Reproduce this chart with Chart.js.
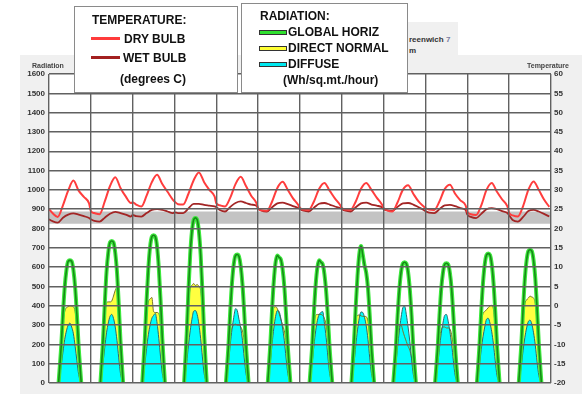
<!DOCTYPE html>
<html>
<head>
<meta charset="utf-8">
<script src="https://cdn.jsdelivr.net/npm/chart.js@4.4.0/dist/chart.umd.min.js"></script>
<style>
  html, body { margin: 0; padding: 0; background: #fff; }
  body { width: 582px; height: 394px; position: relative; overflow: hidden;
         font-family: "Liberation Sans", Arial, sans-serif; }
  #panel { position: absolute; left: 20px; top: 55px; width: 562px; height: 339px; background: #f0f0f0; }
  #tab { position: absolute; left: 408px; top: 22px; width: 50px; height: 33px; background: #f0f0f0; }
  #chart { position: absolute; left: 0; top: 0; }
  .t { position: absolute; white-space: nowrap; font-weight: bold; line-height: 12px; }
  .small { font-size: 7px; color: #444; line-height: 8px; }
  .box { position: absolute; background: #fff; border: 1.5px solid #8a8a8a; }
  .leg { font-size: 12px; color: #111; }
  .sw { position: absolute; height: 3px; }
  .swb { position: absolute; height: 3px; border: 1px solid #333; }
</style>
</head>
<body>
<div id="panel"></div>
<div id="tab">
  <div class="t" style="left:1px;top:13px;font-size:8px;color:#333;line-height:9px;">reenwich <span style="color:#7a7aa0">7</span></div>
  <div class="t" style="left:1px;top:24px;font-size:8px;color:#333;line-height:9px;">m</div>
</div>
<canvas id="chart" width="582" height="394"></canvas>

<div class="t small" style="left:32px;top:62px;">Radiation</div>
<div class="t small" style="left:527px;top:62px;">Temperature</div>

<div class="box" style="left:74px;top:6px;width:162px;height:85px;"></div>
<div class="t leg" style="left:92px;top:14px;">TEMPERATURE:</div>
<div class="sw" style="left:91px;top:37px;width:29px;background:#ff3b3b;"></div>
<div class="t leg" style="left:124px;top:33px;">DRY BULB</div>
<div class="sw" style="left:91px;top:56px;width:29px;background:#a32020;"></div>
<div class="t leg" style="left:123px;top:52px;">WET BULB</div>
<div class="t leg" style="left:120px;top:73px;">(degrees C)</div>

<div class="box" style="left:241px;top:3px;width:165px;height:88px;"></div>
<div class="t leg" style="left:260px;top:10px;">RADIATION:</div>
<div class="swb" style="left:259px;top:30px;width:26px;background:#2fe02f;"></div>
<div class="t leg" style="left:288px;top:26px;">GLOBAL HORIZ</div>
<div class="swb" style="left:259px;top:46px;width:26px;background:#ffff33;"></div>
<div class="t leg" style="left:288px;top:42px;">DIRECT NORMAL</div>
<div class="swb" style="left:259px;top:62px;width:26px;background:#00e8f0;"></div>
<div class="t leg" style="left:288px;top:58px;">DIFFUSE</div>
<div class="t leg" style="left:283px;top:74px;">(Wh/sq.mt./hour)</div>

<script>
const months = ['Jan', 'Feb', 'Mar', 'Apr', 'May', 'Jun', 'Jul', 'Aug', 'Sep', 'Oct', 'Nov', 'Dec'];

// radiation, hourly through the daylight hours (Wh/sq.mt./hour)
const radHours = [5.5, 7, 8, 9, 10, 11, 12, 13, 14, 15, 16, 17, 18.5];
const globalHoriz = [
  [0, 190, 355, 495, 585, 630, 635, 630, 585, 495, 355, 190, 0],
  [0, 220, 410, 575, 675, 728, 735, 728, 675, 575, 410, 220, 0],
  [0, 230, 430, 595, 705, 757, 765, 757, 705, 595, 430, 230, 0],
  [0, 255, 480, 665, 785, 845, 855, 845, 785, 665, 480, 255, 0],
  [0, 200, 375, 520, 615, 660, 665, 655, 605, 510, 365, 195, 0],
  [0, 205, 385, 530, 625, 660, 650, 640, 590, 500, 355, 190, 0],
  [0, 195, 370, 510, 600, 635, 625, 615, 565, 475, 340, 180, 0],
  [0, 215, 400, 555, 665, 710, 665, 610, 570, 490, 350, 185, 0],
  [0, 185, 350, 485, 575, 618, 625, 618, 575, 485, 350, 185, 0],
  [0, 185, 345, 485, 570, 614, 620, 614, 570, 485, 345, 185, 0],
  [0, 200, 375, 520, 615, 663, 670, 663, 615, 520, 375, 200, 0],
  [0, 205, 385, 540, 635, 683, 690, 683, 635, 540, 385, 205, 0]
];
const directNormal = [
  [0, 150, 300, 370, 390, 395, 400, 398, 395, 370, 290, 150, 0],
  [0, 170, 340, 415, 420, 420, 425, 450, 480, 495, 330, 170, 0],
  [0, 180, 350, 420, 435, 443, 370, 365, 365, 360, 300, 170, 0],
  [0, 200, 400, 490, 505, 515, 505, 510, 500, 480, 380, 190, 0],
  [0, 140, 250, 285, 300, 305, 300, 300, 290, 270, 220, 130, 0],
  [0, 170, 330, 390, 395, 385, 360, 330, 300, 270, 220, 130, 0],
  [0, 160, 300, 350, 355, 355, 355, 350, 335, 300, 230, 130, 0],
  [0, 170, 320, 350, 352, 348, 345, 345, 343, 320, 240, 140, 0],
  [0, 150, 250, 295, 300, 270, 240, 215, 190, 170, 130, 70, 0],
  [0, 130, 230, 275, 290, 290, 285, 285, 280, 250, 190, 100, 0],
  [0, 160, 300, 360, 370, 380, 390, 400, 402, 380, 290, 150, 0],
  [0, 170, 330, 410, 430, 440, 450, 445, 440, 410, 310, 160, 0]
];
const diffuse = [
  [0, 90, 160, 225, 270, 300, 310, 290, 255, 190, 115, 45, 0],
  [0, 105, 185, 260, 310, 345, 355, 335, 290, 220, 130, 50, 0],
  [0, 100, 180, 250, 300, 335, 350, 360, 310, 230, 135, 50, 0],
  [0, 105, 195, 270, 330, 372, 375, 355, 305, 230, 135, 50, 0],
  [0, 110, 200, 280, 340, 385, 375, 330, 285, 220, 130, 50, 0],
  [0, 110, 205, 285, 345, 375, 370, 335, 285, 220, 130, 50, 0],
  [0, 105, 195, 270, 325, 355, 365, 370, 310, 235, 135, 50, 0],
  [0, 105, 195, 275, 335, 368, 365, 340, 295, 225, 130, 50, 0],
  [0, 100, 190, 270, 340, 390, 398, 355, 290, 215, 125, 45, 0],
  [0, 95, 180, 255, 310, 350, 355, 320, 265, 200, 115, 40, 0],
  [0, 95, 175, 240, 290, 330, 335, 310, 265, 200, 115, 40, 0],
  [0, 90, 170, 235, 285, 318, 325, 305, 260, 195, 110, 40, 0]
];

// temperature, selected hours of the average day (degrees C)
const tempHours = [0, 2, 5, 8, 11, 14, 17, 20, 23];
const dryBulb = [
  [25.0, 24.0, 23.0, 26.0, 29.8, 32.4, 29.8, 28.2, 26.5],
  [24.5, 24.0, 23.7, 27.0, 31.0, 33.3, 30.5, 28.3, 26.6],
  [26.8, 26.2, 25.7, 28.5, 32.0, 33.9, 31.5, 29.5, 27.5],
  [27.0, 26.3, 26.2, 29.0, 32.5, 34.5, 32.0, 30.0, 28.3],
  [26.5, 26.0, 25.7, 28.0, 31.5, 33.4, 31.0, 28.5, 26.6],
  [25.2, 24.7, 24.6, 27.0, 30.5, 32.1, 30.0, 27.8, 26.1],
  [25.3, 24.9, 24.8, 27.0, 30.3, 31.8, 29.8, 27.8, 26.1],
  [25.3, 24.9, 24.8, 27.0, 30.3, 31.8, 30.0, 28.0, 26.2],
  [25.3, 24.7, 24.4, 26.8, 30.0, 31.2, 29.0, 27.0, 25.7],
  [25.3, 24.9, 24.8, 27.0, 30.2, 31.3, 29.0, 27.3, 26.0],
  [24.3, 23.7, 23.5, 26.0, 30.0, 31.8, 29.5, 27.5, 25.7],
  [24.0, 23.4, 23.1, 25.8, 30.0, 32.2, 30.0, 27.5, 25.6]
];
const wetBulb = [
  [22.4, 21.9, 21.5, 22.8, 23.6, 23.9, 23.6, 23.2, 22.7],
  [22.4, 22.0, 21.8, 22.8, 23.8, 24.3, 24.0, 23.6, 23.1],
  [23.5, 23.2, 23.1, 24.0, 24.8, 25.0, 24.8, 24.4, 24.0],
  [24.2, 24.0, 24.0, 25.2, 26.4, 26.4, 26.1, 25.9, 25.7],
  [25.5, 24.8, 24.4, 25.6, 26.6, 27.0, 26.6, 26.2, 25.9],
  [25.2, 24.6, 24.4, 25.5, 26.5, 26.7, 26.3, 25.8, 25.3],
  [25.0, 24.6, 24.4, 25.4, 26.4, 26.6, 26.2, 25.7, 25.3],
  [25.0, 24.6, 24.4, 25.5, 26.5, 26.7, 26.2, 25.9, 25.5],
  [25.0, 24.7, 24.6, 25.6, 26.5, 26.6, 26.2, 25.5, 24.8],
  [24.5, 24.1, 24.0, 25.0, 26.0, 26.1, 25.8, 25.3, 24.8],
  [23.6, 23.0, 22.7, 23.8, 25.0, 25.3, 25.0, 24.5, 24.0],
  [23.4, 22.2, 21.8, 23.0, 24.5, 24.8, 24.4, 23.8, 23.1]
];

// comfort zone band (degrees C)
const comfortLow = 21.2;
const comfortHigh = 24.4;

const tickFont = { family: 'Liberation Sans', size: 8, weight: 'bold' };
const gridColor = '#616161';

// one day per month, 24 units wide on the x axis; gaps between the daylight humps
function radPoints(rows) {
  const pts = [];
  rows.forEach((row, m) => {
    row.forEach((v, i) => pts.push({ x: m * 24 + radHours[i], y: v }));
    pts.push({ x: m * 24 + 21, y: null });
  });
  return pts;
}
function tempPoints(rows) {
  const pts = [];
  rows.forEach((row, m) => row.forEach((v, i) => pts.push({ x: m * 24 + tempHours[i], y: v })));
  return pts;
}

const plotBg = {
  id: 'plotBg',
  beforeDraw(chart) {
    const { ctx, chartArea: a } = chart;
    ctx.save();
    ctx.fillStyle = '#fff';
    ctx.fillRect(a.left, a.top, a.right - a.left, a.bottom - a.top);
    ctx.restore();
  }
};

const line = (extra) => Object.assign({
  type: 'line', pointRadius: 0, fill: false, cubicInterpolationMode: 'monotone'
}, extra);

new Chart(document.getElementById('chart'), {
  type: 'line',
  data: {
    datasets: [
      line({ order: 10, yAxisID: 'yT', data: [{ x: 0, y: comfortHigh }, { x: 288, y: comfortHigh }],
             borderWidth: 0, backgroundColor: '#c3c3c3', fill: { value: comfortLow } }),
      line({ order: 9, data: radPoints(directNormal), borderWidth: 0, backgroundColor: '#ffff40', fill: 'origin' }),
      line({ order: 8, data: radPoints(diffuse), borderWidth: 0, backgroundColor: '#00ffff', fill: 'origin' }),
      line({ order: 7, data: radPoints(directNormal), borderColor: '#77772a', borderWidth: 1 }),
      line({ order: 6, data: radPoints(diffuse), borderColor: '#2a6c6c', borderWidth: 1 }),
      line({ order: 5, data: radPoints(globalHoriz), borderColor: '#3ee83e', borderWidth: 4 }),
      line({ order: 4, data: radPoints(globalHoriz), borderColor: '#168a16', borderWidth: 1.6 }),
      line({ order: 3, yAxisID: 'yT', data: tempPoints(wetBulb), borderColor: '#a32525', borderWidth: 1.8 }),
      line({ order: 2, yAxisID: 'yT', data: tempPoints(dryBulb), borderColor: '#ff3d3d', borderWidth: 2 })
    ]
  },
  options: {
    responsive: false,
    animation: false,
    devicePixelRatio: 1,
    layout: { padding: { left: 20, top: 74, right: 0, bottom: 0 } },
    plugins: { legend: { display: false }, tooltip: { enabled: false } },
    scales: {
      x: {
        type: 'linear', min: 0, max: 288, position: 'bottom',
        afterBuildTicks: s => { s.ticks = months.map((_, m) => ({ value: m * 24 })).concat([{ value: 288 }]); },
        ticks: { display: false },
        grid: { color: gridColor, lineWidth: 1.4, drawTicks: false, z: 1 },
        border: { display: false },
        afterFit: s => { s.height = 0; }
      },
      xm: {
        type: 'linear', min: 0, max: 288, position: 'bottom',
        afterBuildTicks: s => { s.ticks = months.map((_, m) => ({ value: m * 24 + 12 })); },
        ticks: { callback: v => months[Math.floor(v / 24)], font: tickFont, color: '#333',
                 padding: 1, maxRotation: 0, autoSkip: false },
        grid: { display: false },
        border: { display: false },
        afterFit: s => { s.height = 11; }
      },
      y: {
        min: 0, max: 1600, position: 'left',
        ticks: { stepSize: 100, font: tickFont, color: '#333', padding: 4, callback: v => String(v) },
        grid: { color: gridColor, lineWidth: 1.4, drawTicks: false, z: 1 },
        border: { display: false },
        afterFit: s => { s.width = 29; }
      },
      yT: {
        min: -20, max: 60, position: 'right',
        ticks: { stepSize: 5, font: tickFont, color: '#333', padding: 3, callback: v => String(v) },
        grid: { display: false, drawTicks: false },
        border: { display: false },
        afterFit: s => { s.width = 31; }
      }
    }
  },
  plugins: [plotBg]
});
</script>
</body>
</html>
